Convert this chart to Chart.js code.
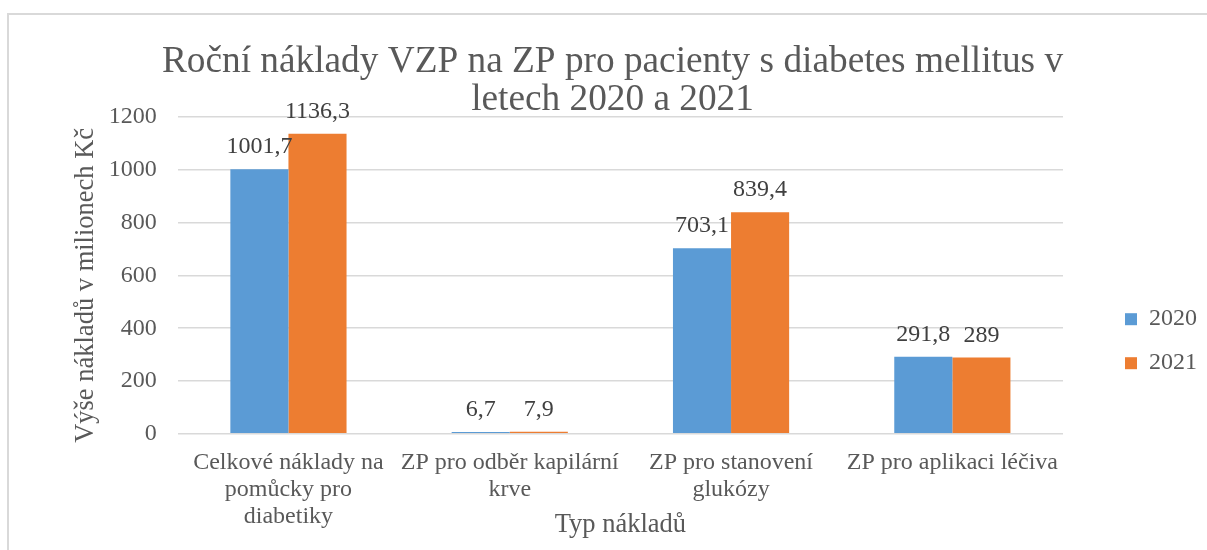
<!DOCTYPE html>
<html>
<head>
<meta charset="utf-8">
<title>Roční náklady VZP</title>
<script src="https://cdn.jsdelivr.net/npm/chart.js@4/dist/chart.umd.min.js"></script>
<style>
	body { margin: 0; overflow: hidden; background: #fff; }
	#wrap { position: relative; width: 1207px; height: 550px; }
	#frame { position: absolute; left: 7px; top: 13px; right: -10px; bottom: -10px; border: 2px solid #d9d9d9; pointer-events: none; }
</style>
</head>
<body>
<div id="wrap">
	<canvas id="chart"></canvas>
	<div id="frame"></div>
</div>
<script>
'use strict'

var categories = [
	['Celkové náklady na', 'pomůcky pro', 'diabetiky'],
	['ZP pro odběr kapilární', 'krve'],
	['ZP pro stanovení', 'glukózy'],
	'ZP pro aplikaci léčiva'
];
var values2020 = [1001.7, 6.7, 703.1, 291.8];
var values2021 = [1136.3, 7.9, 839.4, 289];
var yTicks = [0, 200, 400, 600, 800, 1000, 1200];

var textGrey = '#595959';
var serif = '"Liberation Serif", "Times New Roman", serif';

//------------- value labels above the bars ------------- //
var barLabels = {
	id: 'barLabels',
	afterDatasetsDraw: function(chart) {
		var ctx = chart.ctx;
		ctx.save();
		ctx.font = '24px ' + serif;
		ctx.fillStyle = '#404040';
		ctx.textAlign = 'center';
		ctx.textBaseline = 'alphabetic';
		chart.data.datasets.forEach(function(ds, di) {
			chart.getDatasetMeta(di).data.forEach(function(bar, i) {
				ctx.fillText(String(ds.data[i]).replace('.', ','), bar.x, bar.y - 16);
			});
		});
		ctx.restore();
	}
};

window.onload = function(){
	var ctx = document.getElementById("chart").getContext("2d");

	var myChart = new Chart(ctx, {
		type: 'bar',
		data: {
			labels: categories,
			datasets: [{
				label: '2020',
				data: values2020,
				backgroundColor: '#5b9bd5',
				categoryPercentage: 0.525,
				barPercentage: 1
			}, {
				label: '2021',
				data: values2021,
				backgroundColor: '#ed7d31',
				categoryPercentage: 0.525,
				barPercentage: 1
			}]
		},
		options: {
			responsive: true,
			maintainAspectRatio: false,
			animation: false,
			layout: { padding: { left: 18, top: 0, right: 0, bottom: 0 } },
			scales: {
				x: {
					grid: { display: false, drawTicks: false },
					border: { display: false },
					ticks: { color: textGrey, padding: 15, maxRotation: 0, autoSkip: false,
						font: { family: serif, size: 24, lineHeight: 1.13 } },
					title: { display: true, text: 'Typ nákladů', color: textGrey,
						font: { family: serif, size: 26.5, lineHeight: 1.2 },
						padding: { top: -36, bottom: 9 } }
				},
				y: {
					min: 0,
					max: 1200,
					afterBuildTicks: function(scale) {
						scale.ticks = yTicks.map(function(v) { return { value: v }; });
					},
					grid: { color: '#d9d9d9', lineWidth: 1.5, drawTicks: false },
					border: { display: false },
					ticks: { color: textGrey, padding: 21, font: { family: serif, size: 24 },
						callback: function(v) { return String(v); } },
					// trailing spaces nudge the rotated title a little lower, like the original
					title: { display: true, text: 'Výše nákladů v milionech Kč   ', color: textGrey,
						font: { family: serif, size: 26.5, lineHeight: 1.2 },
						padding: { top: 52, bottom: -14 } }
				},
				// empty axis, only keeps the gap between the plot and the legend
				gap: {
					type: 'linear',
					position: 'right',
					display: true,
					grid: { display: false, drawTicks: false },
					border: { display: false },
					ticks: { display: false },
					afterFit: function(scale) { scale.width = 42; }
				}
			},
			plugins: {
				title: {
					display: true,
					text: ['Roční náklady VZP na ZP pro pacienty s diabetes mellitus v', 'letech 2020 a 2021'],
					color: textGrey,
					font: { family: serif, size: 37.3, weight: 'normal', lineHeight: '38px' },
					padding: { top: 43, bottom: -2 }
				},
				legend: {
					position: 'right',
					title: { display: true, text: '', padding: { top: 118, bottom: 0 } },
					labels: {
						boxWidth: 12,
						boxHeight: 12,
						padding: 20,
						color: textGrey,
						font: { family: serif, size: 24 }
					}
				},
				tooltip: { enabled: false }
			}
		},
		plugins: [barLabels]
	});
}
</script>
</body>
</html>
